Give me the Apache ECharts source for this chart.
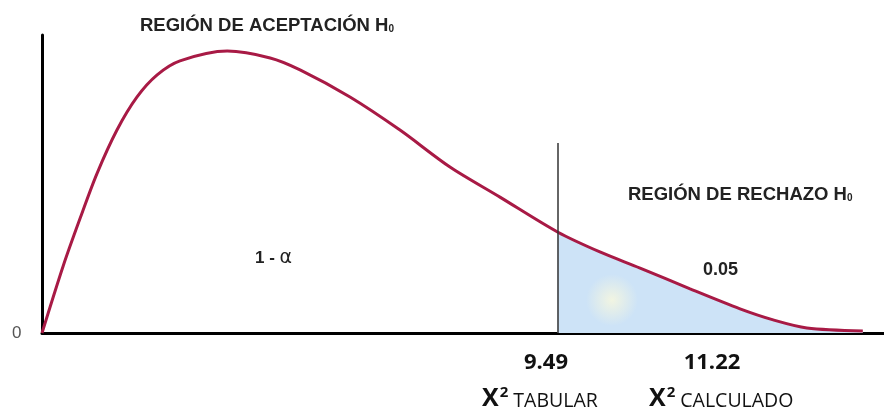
<!DOCTYPE html>
<html>
<head>
<meta charset="utf-8">
<script src="https://cdn.jsdelivr.net/npm/echarts@6/dist/echarts.min.js"></script>
<style>
  html, body { margin: 0; padding: 0; background: #fff; }
  #chart { width: 884px; height: 411px; }
</style>
</head>
<body>
<div id="chart"></div>
<script>
// chi-square curve, schematic (x in chi-square units, y relative height)
const xVals = [0, 0.39, 0.70, 1.01, 1.38, 1.75, 2.12, 2.54, 3.41, 4.20, 4.75, 5.67, 6.59, 7.51, 8.43, 9.49, 10.27, 11.01, 11.93, 12.85, 13.46, 14.08, 15.11];
const density = [0, 22.5, 38.4, 53.4, 68.1, 79.2, 86.6, 91.3, 94.6, 92.3, 88.3, 79.2, 68.1, 55.7, 45.6, 33.9, 27.2, 21.8, 14.8, 8.1, 4.4, 1.7, 0.7];
const critical = 9.49;
const criticalTop = 63.8;
const tickLabels = ['9.49', '11.22'];
const statLabels = ['TABULAR', 'CALCULADO'];

const curve = xVals.map((x, i) => [x, density[i]]);
const tail = curve.filter(p => p[0] >= critical);

const chart = echarts.init(document.getElementById('chart'));
const arial = '"Liberation Sans", Arial, sans-serif';
const labelFont = '"Open Sans", "DejaVu Sans", sans-serif';

function h0(x, y, text) {
  return {
    type: 'text', x: x, y: y,
    style: {
      text: '{a|' + text + ' H}{s|0}',
      verticalAlign: 'middle',
      rich: {
        a: { fontFamily: arial, fontWeight: 'bold', fontSize: 18.5, fill: '#222' },
        s: { fontFamily: arial, fontWeight: 'bold', fontSize: 10, fill: '#222', padding: [7, 0, 0, 0] }
      }
    }
  };
}

function chiLabel(x, word) {
  return {
    type: 'text', x: x, y: 399,
    style: {
      text: '{x|X}{p|2}{w| ' + word + '}',
      verticalAlign: 'middle',
      rich: {
        x: { fontFamily: labelFont, fontWeight: 'bold', fontSize: 25, fill: '#111' },
        p: { fontFamily: labelFont, fontWeight: 'bold', fontSize: 15, fill: '#111', padding: [0, 0, 12, 1] },
        w: { fontFamily: labelFont, fontSize: 19.5, fill: '#111', padding: [5, 0, 0, 0] }
      }
    }
  };
}

function tickText(cx, text) {
  return {
    type: 'text', x: cx, y: 363,
    style: {
      text: text, align: 'center', verticalAlign: 'middle',
      fontFamily: labelFont, fontWeight: 'bold', fontSize: 22, fill: '#111'
    }
  };
}

chart.setOption({
  animation: false,
  grid: { left: 42, right: 0, top: 35, bottom: 78 },
  xAxis: {
    type: 'value', min: 0, max: 15.5,
    axisLine: { lineStyle: { color: '#000', width: 3 } },
    axisTick: { show: false },
    axisLabel: { show: false },
    splitLine: { show: false }
  },
  yAxis: {
    type: 'value', min: 0, max: 100,
    axisLine: { show: true, lineStyle: { color: '#000', width: 3 } },
    axisTick: { show: false },
    axisLabel: { show: false },
    splitLine: { show: false }
  },
  series: [
    {
      name: 'rechazo',
      type: 'line',
      data: tail,
      smooth: 0.3,
      showSymbol: false,
      lineStyle: { width: 0 },
      areaStyle: { color: '#cde3f7', opacity: 1 },
      z: 1,
      markLine: {
        symbol: 'none',
        silent: true,
        label: { show: false },
        lineStyle: { color: '#333', width: 1.5, type: 'solid' },
        data: [[{ coord: [critical, 0] }, { coord: [critical, criticalTop] }]]
      }
    },
    {
      name: 'curva',
      type: 'line',
      data: curve,
      smooth: 0.3,
      showSymbol: false,
      lineStyle: { width: 3, color: '#a81a45' },
      z: 3
    }
  ],
  graphic: [
    {
      type: 'circle', shape: { cx: 612, cy: 300, r: 26 }, z: 2,
      style: {
        fill: new echarts.graphic.RadialGradient(0.5, 0.5, 0.5, [
          { offset: 0, color: 'rgba(248,248,222,0.85)' },
          { offset: 1, color: 'rgba(248,248,222,0)' }
        ])
      }
    },
    h0(140, 26, 'REGIÓN DE ACEPTACIÓN'),
    h0(628, 195, 'REGIÓN DE RECHAZO'),
    {
      type: 'text', x: 255, y: 258,
      style: {
        text: '{a|1 - }{b|α}',
        verticalAlign: 'middle',
        rich: {
          a: { fontFamily: arial, fontWeight: 'bold', fontSize: 17, fill: '#222' },
          b: { fontFamily: '"DejaVu Sans", sans-serif', fontSize: 19, fill: '#222' }
        }
      }
    },
    {
      type: 'text', x: 703, y: 270,
      style: { text: '0.05', verticalAlign: 'middle', fontFamily: arial, fontWeight: 'bold', fontSize: 18, fill: '#222' }
    },
    {
      type: 'text', x: 12, y: 333,
      style: { text: '0', verticalAlign: 'middle', fontFamily: arial, fontSize: 17, fill: '#555' }
    },
    tickText(546, tickLabels[0]),
    tickText(712, tickLabels[1]),
    chiLabel(482, statLabels[0]),
    chiLabel(649, statLabels[1])
  ]
});
</script>
</body>
</html>
